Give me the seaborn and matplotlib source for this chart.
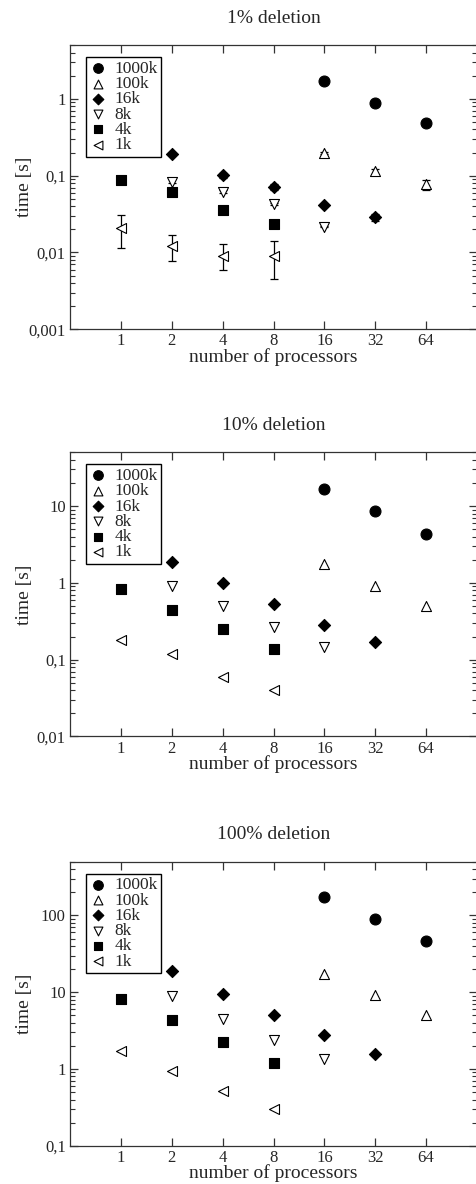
import matplotlib
matplotlib.use("Agg")
import matplotlib.pyplot as plt
import matplotlib.ticker as mticker
import seaborn as sns
import pandas as pd

# series names and processor counts per series
names = ["1000k", "100k", "16k", "8k", "4k", "1k"]
procs = {
    "1000k": [16, 32, 64],
    "100k": [16, 32, 64],
    "16k": [2, 4, 8, 16, 32],
    "8k": [2, 4, 8, 16],
    "4k": [1, 2, 4, 8],
    "1k": [1, 2, 4, 8],
}
xticks = [1, 2, 4, 8, 16, 32, 64]

# 1% deletion
t1 = {
    "1000k": [1.7, 0.89, 0.49],
    "100k": [0.196, 0.116, 0.078],
    "16k": [0.194, 0.101, 0.072, 0.0415, 0.029],
    "8k": [0.084, 0.062, 0.043, 0.0217],
    "4k": [0.087, 0.061, 0.036, 0.0238],
    "1k": [0.021, 0.0121, 0.0091, 0.0091],
}
# error bars for 1% deletion (low, high)
err1_lo = {
    "100k": [0.190, 0.106, 0.065],
    "16k": [0.188, 0.093, 0.066, 0.040, 0.026],
    "8k": [0.080, 0.059, 0.042, 0.0212],
    "4k": [0.085, 0.057, 0.035, 0.0233],
    "1k": [0.0116, 0.0077, 0.0059, 0.0045],
}
err1_hi = {
    "100k": [0.202, 0.124, 0.087],
    "16k": [0.200, 0.110, 0.078, 0.043, 0.032],
    "8k": [0.090, 0.066, 0.044, 0.0222],
    "4k": [0.089, 0.064, 0.037, 0.0243],
    "1k": [0.031, 0.0169, 0.0128, 0.0139],
}

# 10% deletion
t2 = {
    "1000k": [16.5, 8.6, 4.34],
    "100k": [1.74, 0.92, 0.50],
    "16k": [1.85, 1.01, 0.53, 0.28, 0.17],
    "8k": [0.92, 0.50, 0.265, 0.148],
    "4k": [0.82, 0.447, 0.252, 0.139],
    "1k": [0.182, 0.119, 0.059, 0.040],
}

# 100% deletion
t3 = {
    "1000k": [171, 89.6, 45.9],
    "100k": [17.1, 9.3, 4.97],
    "16k": [18.6, 9.6, 4.97, 2.74, 1.55],
    "8k": [8.87, 4.54, 2.41, 1.35],
    "4k": [8.19, 4.36, 2.22, 1.2],
    "1k": [1.71, 0.93, 0.52, 0.305],
}

titles = ["1% deletion", "10% deletion", "100% deletion"]
ylims = [(0.001, 5), (0.01, 50), (0.1, 500)]

markers = {"1000k": "o", "100k": "^", "16k": "D", "8k": "v", "4k": "s", "1k": "<"}
filled = {"1000k": True, "100k": False, "16k": True, "8k": False, "4k": True, "1k": False}
sizes = {"1000k": 62, "100k": 52, "16k": 38, "8k": 52, "4k": 50, "1k": 52}

sns.set_style("ticks")
plt.rcParams["font.family"] = ["Liberation Serif", "DejaVu Serif"]
plt.rcParams["mathtext.fontset"] = "stix"

fig = plt.figure(figsize=(4.76, 11.84), dpi=100)
bottoms = [0.7219, 0.3780, 0.0323]


def comma_fmt(v, pos):
    return ("%g" % v).replace(".", ",")


for i, data in enumerate([t1, t2, t3]):
    ax = fig.add_axes([70 / 476, bottoms[i], 407 / 476, 0.2399])
    for n in names:
        df = pd.DataFrame({"procs": procs[n], "time": data[n]})
        if i == 0 and n in err1_lo:
            lo = [v - l for v, l in zip(data[n], err1_lo[n])]
            hi = [h - v for v, h in zip(data[n], err1_hi[n])]
            ax.errorbar(df["procs"], df["time"], yerr=[lo, hi], fmt="none",
                        ecolor="black", elinewidth=0.9, capsize=3, capthick=0.9,
                        zorder=2)
        fc = "black" if filled[n] else "white"
        sns.scatterplot(data=df, x="procs", y="time", marker=markers[n],
                        s=sizes[n], facecolor=fc, edgecolor="black",
                        linewidth=0.8, label=n, ax=ax, zorder=3)

    ax.set_xscale("log", base=2)
    ax.set_yscale("log")
    ax.set_xlim(0.5, 128)
    ax.set_ylim(*ylims[i])
    ax.set_xticks(xticks)
    ax.xaxis.set_major_formatter(mticker.FuncFormatter(lambda v, p: "%d" % v))
    ax.xaxis.set_minor_locator(mticker.NullLocator())
    ax.yaxis.set_major_locator(mticker.LogLocator(base=10))
    ax.yaxis.set_minor_locator(mticker.LogLocator(base=10, subs=range(2, 10)))
    ax.yaxis.set_major_formatter(mticker.FuncFormatter(comma_fmt))
    ax.yaxis.set_minor_formatter(mticker.NullFormatter())
    ax.tick_params(which="both", direction="in", top=True, right=True,
                   color="#333333", labelsize=12, pad=3)
    ax.tick_params(which="major", length=6, width=0.9)
    ax.tick_params(which="minor", length=3.5, width=0.8)
    for sp in ax.spines.values():
        sp.set_color("#333333")
        sp.set_linewidth(0.9)

    ax.set_title(titles[i], fontsize=14, pad=16)
    ax.set_xlabel("number of processors", fontsize=14, labelpad=-1)
    ax.set_ylabel("time [s]", fontsize=14)
    ax.yaxis.set_label_coords(-0.09, 0.5)

    leg = ax.legend(loc="upper left", bbox_to_anchor=(0.039, 0.958),
                    borderaxespad=0, fontsize=12.5, frameon=True, fancybox=False,
                    framealpha=1, edgecolor="black", handlelength=1.0,
                    handletextpad=0.45, borderpad=0.2, labelspacing=-0.05,
                    scatterpoints=1, markerscale=0.88)
    leg.get_frame().set_linewidth(1.0)

fig.savefig("out.png", dpi=100)
